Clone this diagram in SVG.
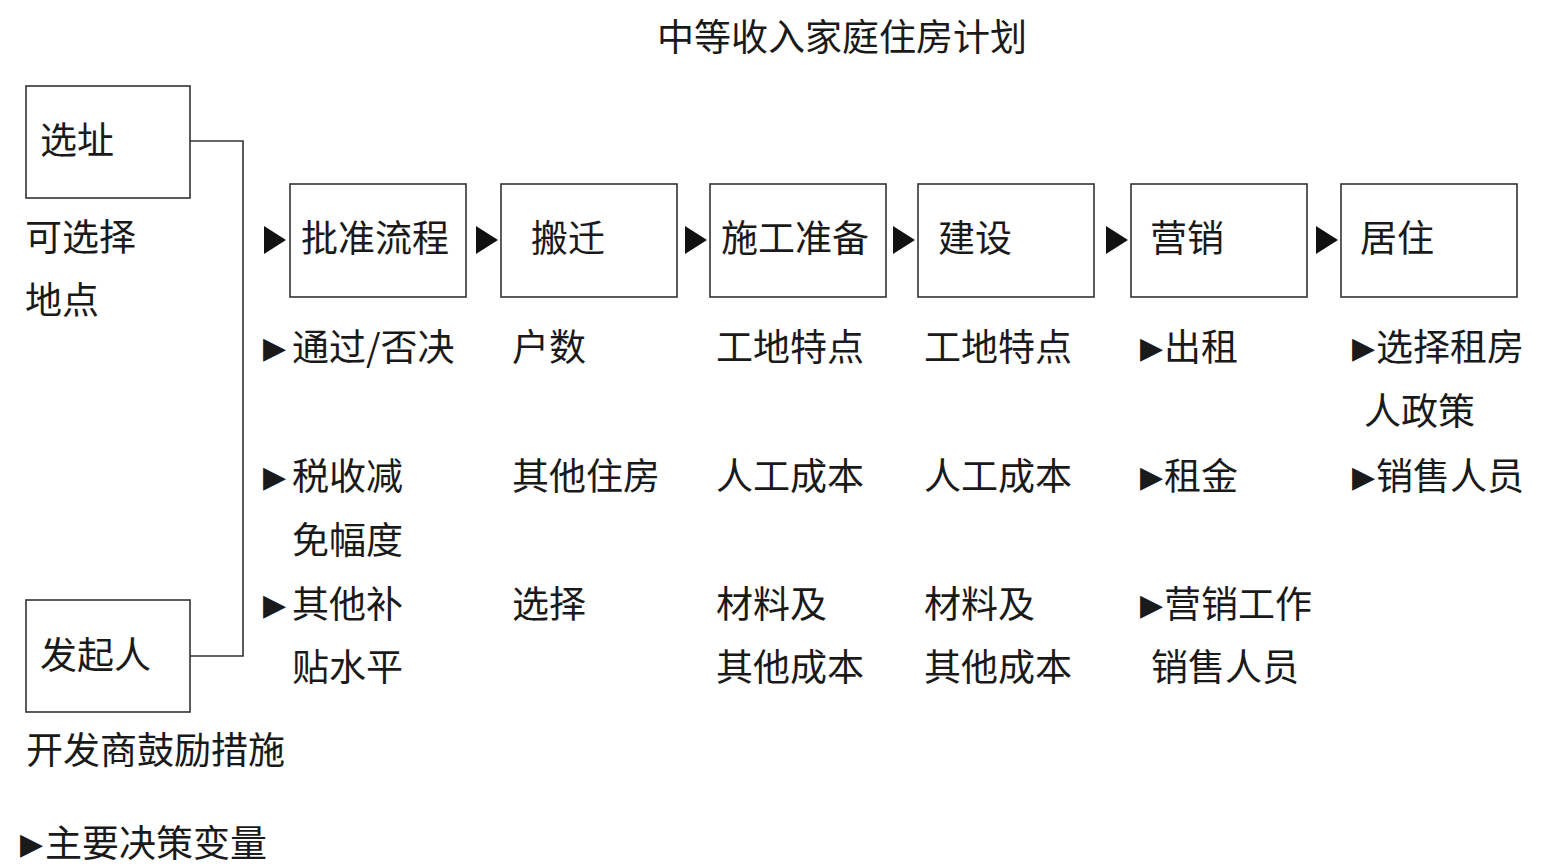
<svg xmlns="http://www.w3.org/2000/svg" width="1545" height="868" viewBox="0 0 1545 868">
<style>
text{font-family:"Noto Sans CJK SC","Noto Sans CJK JP",sans-serif;font-size:37px;fill:#1a1a1a}
.b{font-family:"DejaVu Sans",sans-serif;font-size:30px;baseline-shift:3px}
rect{fill:#fff;stroke:#333;stroke-width:1.6}
.ln{fill:none;stroke:#333;stroke-width:1.6}
.tri{fill:#111}
</style>
<rect x="0" y="0" width="1545" height="868" style="stroke:none"/>
<text x="842" y="51" text-anchor="middle">中等收入家庭住房计划</text>

<g id="connectors">
<polyline class="ln" points="190,141 243,141 243,656 190,656"/>
<polygon class="tri" points="264,226 286,240 264,254"/>
<polygon class="tri" points="476,226 498,240 476,254"/>
<polygon class="tri" points="685,226 707,240 685,254"/>
<polygon class="tri" points="893,226 915,240 893,254"/>
<polygon class="tri" points="1106,226 1128,240 1106,254"/>
<polygon class="tri" points="1316,226 1338,240 1316,254"/>
</g>

<g id="site">
<rect x="26" y="86" width="164" height="112"/>
<text x="40" y="154">选址</text>
<text x="25" y="251">可选择</text>
<text x="25" y="314">地点</text>
</g>
<g id="sponsor">
<rect x="26" y="600" width="164" height="112"/>
<text x="40" y="669">发起人</text>
<text x="26" y="764">开发商鼓励措施</text>
</g>

<g id="approval">
<rect x="290" y="184" width="176" height="113"/>
<text x="301" y="252">批准流程</text>
<text x="263" y="361"><tspan class="b">▶</tspan><tspan x="292">通过/否决</tspan></text>
<text x="263" y="490"><tspan class="b">▶</tspan><tspan x="292">税收减</tspan></text>
<text x="292" y="554">免幅度</text>
<text x="263" y="618"><tspan class="b">▶</tspan><tspan x="292">其他补</tspan></text>
<text x="292" y="681">贴水平</text>
</g>

<g id="relocation">
<rect x="501" y="184" width="176" height="113"/>
<text x="531" y="252">搬迁</text>
<text x="512" y="361">户数</text>
<text x="512" y="490">其他住房</text>
<text x="512" y="618">选择</text>
</g>

<g id="preparation">
<rect x="710" y="184" width="176" height="113"/>
<text x="721" y="252">施工准备</text>
<text x="716" y="361">工地特点</text>
<text x="716" y="490">人工成本</text>
<text x="716" y="618">材料及</text>
<text x="716" y="681">其他成本</text>
</g>

<g id="construction">
<rect x="918" y="184" width="176" height="113"/>
<text x="938" y="252">建设</text>
<text x="924" y="361">工地特点</text>
<text x="924" y="490">人工成本</text>
<text x="924" y="618">材料及</text>
<text x="924" y="681">其他成本</text>
</g>

<g id="marketing">
<rect x="1131" y="184" width="176" height="113"/>
<text x="1150" y="252">营销</text>
<text x="1140" y="361"><tspan class="b">▶</tspan><tspan x="1164">出租</tspan></text>
<text x="1140" y="490"><tspan class="b">▶</tspan><tspan x="1164">租金</tspan></text>
<text x="1140" y="618"><tspan class="b">▶</tspan><tspan x="1164">营销工作</tspan></text>
<text x="1151" y="681">销售人员</text>
</g>

<g id="occupancy">
<rect x="1341" y="184" width="176" height="113"/>
<text x="1360" y="252">居住</text>
<text x="1352" y="361"><tspan class="b">▶</tspan><tspan x="1376">选择租房</tspan></text>
<text x="1364" y="425">人政策</text>
<text x="1352" y="490"><tspan class="b">▶</tspan><tspan x="1376">销售人员</tspan></text>
</g>

<g id="legend">
<text x="20" y="857"><tspan class="b">▶</tspan><tspan x="45">主要决策变量</tspan></text>
</g>
</svg>
